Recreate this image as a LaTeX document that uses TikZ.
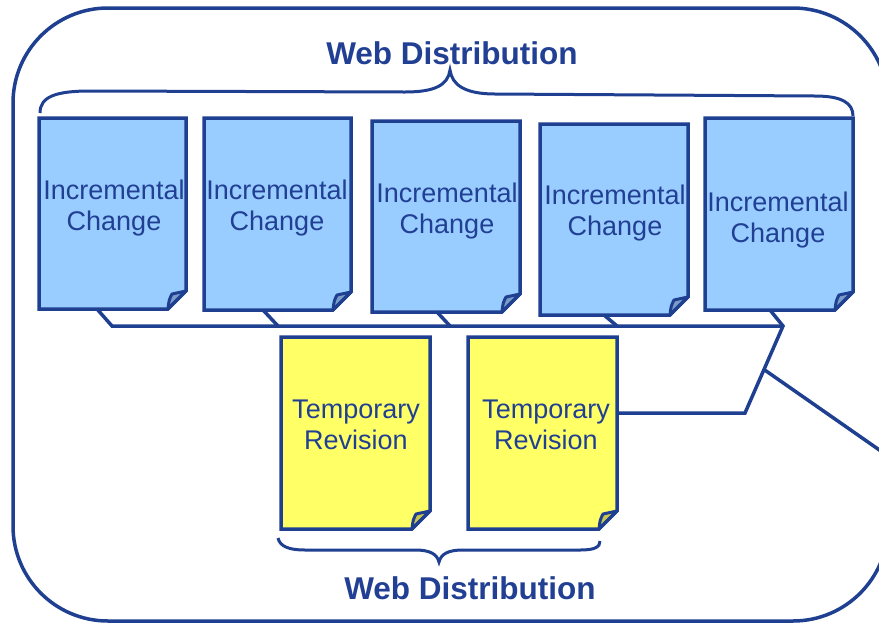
\documentclass[tikz,border=0pt]{standalone}
\usepackage{fontspec}
\setmainfont{Liberation Sans}
\usetikzlibrary{calc}
\definecolor{edge}{HTML}{1F4091}
\definecolor{bluefill}{HTML}{99CCFF}
\definecolor{yellowfill}{HTML}{FFFF66}
\definecolor{bluefold}{HTML}{7A9CC8}
\definecolor{yellowfold}{HTML}{C8C850}
\definecolor{txt}{HTML}{213F93}
\tikzset{
  line/.style={draw=edge, line width=3.5pt, line join=miter},
  foldline/.style={draw=edge, line width=3pt, line join=round},
  docframe/.style={rectangle, inner sep=0pt, outer sep=0pt},
  doctext/.style={text=txt, font=\fontsize{27}{31}\selectfont, align=center, inner sep=0pt},
  titletext/.style={text=txt, font=\fontsize{31.5}{36}\selectfont\bfseries, inner sep=0pt},
}
\newcommand\docshape[3]{%
  \fill[#2] (#1.north west) -- (#1.north east) -- ($(#1.south east)+(0,-18)$) -- ($(#1.south east)+(-18,0)$) -- (#1.south west) -- cycle;
  \filldraw[fill=#3, foldline] ($(#1.south east)+(0,-18)$) -- ($(#1.south east)+(-14,-15)$) .. controls ($(#1.south east)+(-17,-9)$) .. ($(#1.south east)+(-18,0)$) -- cycle;
  \draw[line] (#1.north west) -- (#1.north east) -- ($(#1.south east)+(0,-18)$) -- ($(#1.south east)+(-18,0)$) -- (#1.south west) -- cycle;
}
\begin{document}
\begin{tikzpicture}[x=1pt,y=-1pt]
\useasboundingbox (0,0) rectangle (879,625);
\clip (0,0) rectangle (879,625);
\fill[white] (0,0) rectangle (879,625);
% outer frame
\draw[line, rounded corners=95pt] (13,8) rectangle (888,621);

% documents
\node[docframe, minimum width=147pt, minimum height=191pt] (d1) at (112.5,213.5) {};
\node[docframe, minimum width=147pt, minimum height=192pt] (d2) at (277.5,214) {};
\node[docframe, minimum width=148pt, minimum height=191pt] (d3) at (446,216.5) {};
\node[docframe, minimum width=148pt, minimum height=191pt] (d4) at (614,219.5) {};
\node[docframe, minimum width=148pt, minimum height=192pt] (d5) at (779,214) {};
\node[docframe, minimum width=149pt, minimum height=192pt] (t1) at (355.5,433) {};
\node[docframe, minimum width=149pt, minimum height=192pt] (t2) at (542.5,433) {};

\docshape{d1}{bluefill}{bluefold}
\docshape{d2}{bluefill}{bluefold}
\docshape{d3}{bluefill}{bluefold}
\docshape{d4}{bluefill}{bluefold}
\docshape{d5}{bluefill}{bluefold}
\docshape{t1}{yellowfill}{yellowfold}
\docshape{t2}{yellowfill}{yellowfold}

\node[doctext] (d1t) at (114,208.5) {Incremental\\Change};
\node[doctext] (d2t) at (277,208.5) {Incremental\\Change};
\node[doctext] (d3t) at (447,211) {Incremental\\Change};
\node[doctext] (d4t) at (615,213.5) {Incremental\\Change};
\node[doctext] (d5t) at (778,220.5) {Incremental\\Change};
\node[doctext] (t1t) at (356,424.5) {Temporary\\Revision};
\node[doctext] (t2t) at (546,424.5) {Temporary\\Revision};

% titles
\node[titletext] (top) at (452,53) {Web Distribution};
\node[titletext] (bot) at (470,588) {Web Distribution};

% braces
\draw[line, line width=3pt] (40,113) .. controls (40,97) and (55,91) .. (90,91) -- (405,92) .. controls (435,92) and (448,85) .. (450,70) .. controls (452,85) and (465,94) .. (495,94) -- (815,96) .. controls (842,96) and (853,103) .. (853,116);
\draw[line, line width=3pt] (278,538) .. controls (280,547) and (290,550) .. (305,550) -- (415,550) .. controls (430,550) and (437,554) .. (439,562) .. controls (441,554) and (448,550) .. (463,550) -- (580,550) .. controls (595,550) and (600,547) .. (600,541);

% bus connectors
\coordinate (busL) at (112,326);
\coordinate (busR) at (783,326);
\coordinate (elbow) at (745,413);
\coordinate (far) at (888,456);
\draw[line] ($(d1.south west)+(58,0)$) -- (busL) -- (busR);
\draw[line] ($(d2.south west)+(59,0)$) -- (278,326);
\draw[line] ($(d3.south west)+(65,0)$) -- (450,326);
\draw[line] ($(d4.south west)+(64,0)$) -- (617,326);
\draw[line] ($(d5.south west)+(65,0)$) -- (busR) -- (elbow) -- (t2.east |- elbow);
\coordinate (tap) at ($(busR)!0.5!(elbow)$);
\draw[line] (tap) -- (far);
\end{tikzpicture}
\end{document}
